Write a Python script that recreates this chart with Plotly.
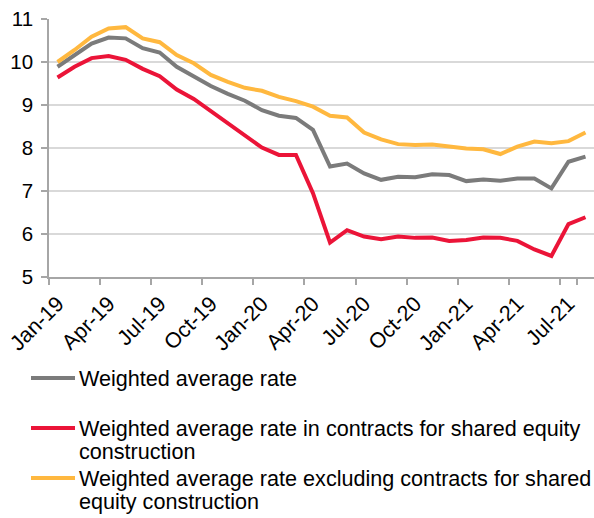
import plotly.graph_objects as go

months = ["Jan-19", "Feb-19", "Mar-19", "Apr-19", "May-19", "Jun-19", "Jul-19", "Aug-19",
          "Sep-19", "Oct-19", "Nov-19", "Dec-19", "Jan-20", "Feb-20", "Mar-20", "Apr-20",
          "May-20", "Jun-20", "Jul-20", "Aug-20", "Sep-20", "Oct-20", "Nov-20", "Dec-20",
          "Jan-21", "Feb-21", "Mar-21", "Apr-21", "May-21", "Jun-21", "Jul-21", "Aug-21"]

weighted_avg = [9.89, 10.16, 10.43, 10.57, 10.55, 10.32, 10.22, 9.89,
                9.67, 9.44, 9.26, 9.10, 8.88, 8.75, 8.70, 8.42,
                7.57, 7.64, 7.41, 7.26, 7.33, 7.32, 7.39, 7.37,
                7.23, 7.27, 7.24, 7.29, 7.29, 7.06, 7.68, 7.80]

shared_equity = [9.64, 9.89, 10.09, 10.14, 10.05, 9.84, 9.67, 9.36,
                 9.14, 8.86, 8.59, 8.30, 8.01, 7.84, 7.84, 6.95,
                 5.80, 6.09, 5.94, 5.88, 5.94, 5.91, 5.92, 5.84,
                 5.86, 5.92, 5.91, 5.84, 5.64, 5.49, 6.23, 6.39]

excl_shared = [10.00, 10.28, 10.59, 10.78, 10.81, 10.55, 10.46, 10.16,
               9.97, 9.70, 9.54, 9.40, 9.33, 9.19, 9.09, 8.96,
               8.75, 8.71, 8.36, 8.20, 8.09, 8.07, 8.08, 8.03,
               7.99, 7.97, 7.86, 8.03, 8.15, 8.11, 8.16, 8.36]

tick_labels = ["Jan-19", "Apr-19", "Jul-19", "Oct-19", "Jan-20", "Apr-20",
               "Jul-20", "Oct-20", "Jan-21", "Apr-21", "Jul-21"]

series_names = ["Weighted average rate",
                "Weighted average rate in contracts for shared equity construction",
                "Weighted average rate excluding contracts for shared equity construction"]
legend_lines = [["Weighted average rate"],
                ["Weighted average rate in contracts for shared equity", "construction"],
                ["Weighted average rate excluding contracts for shared", "equity construction"]]
colors = ["#7b7b7b", "#eb1438", "#ffb83f"]
values = [weighted_avg, shared_equity, excl_shared]

FONT = "Liberation Sans, Arial, sans-serif"
W, H = 594, 518
L, R, T, B = 49, 0, 19, 241
pw, ph = W - L - R, H - T - B

fig = go.Figure()
for name, vals, col in zip(series_names, values, colors):
    fig.add_trace(go.Scatter(x=months, y=vals, mode="lines", name=name,
                             line=dict(color=col, width=4), showlegend=False))

# manual legend (Excel-style, equal height entries)
def px_x(x):
    return (x - L) / pw

def px_y(y):
    return (H - B - y) / ph

entry_top = [378, 428, 478]
line_gap = 23.5
for lines, col, y0 in zip(legend_lines, colors, entry_top):
    fig.add_shape(type="line", xref="paper", yref="paper",
                  x0=px_x(31), x1=px_x(75), y0=px_y(y0), y1=px_y(y0),
                  line=dict(color=col, width=4))
    for k, txt in enumerate(lines):
        fig.add_annotation(xref="paper", yref="paper", x=px_x(77), y=px_y(y0 + k * line_gap),
                           text=txt, showarrow=False, xanchor="left", yanchor="middle",
                           font=dict(family=FONT, size=21.6, color="#000000"))

fig.update_layout(
    width=W, height=H,
    margin=dict(l=L, r=R, t=T, b=B, pad=0, autoexpand=False),
    paper_bgcolor="white", plot_bgcolor="white",
    font=dict(family=FONT, size=19, color="#000000"),
    showlegend=False,
)
fig.update_xaxes(type="category", range=[-0.5, len(months) - 0.5], automargin=False,
                 tickmode="array", tickvals=tick_labels, ticktext=tick_labels,
                 tickson="boundaries", ticks="outside", ticklen=6, tickcolor="#a6a6a6",
                 tickwidth=1.5, tickangle=-45, showgrid=False, ticklabelstandoff=4,
                 showline=True, linecolor="#a6a6a6", linewidth=1.5,
                 tickfont=dict(family=FONT, size=21.5, color="#000000"))
fig.update_yaxes(range=[5, 11], dtick=1, tick0=5, showgrid=True, gridcolor="#d9d9d9",
                 gridwidth=1.5, zeroline=False, ticks="outside", ticklen=6, automargin=False,
                 tickcolor="#a6a6a6", tickwidth=1.5, showline=True, linecolor="#a6a6a6",
                 linewidth=1.5, ticklabelstandoff=4,
                 tickfont=dict(family=FONT, size=20.5, color="#000000"))

fig.write_html("out.html", config={"displayModeBar": False},
               post_script="document.body.style.margin='0';document.body.style.overflow='hidden';")
